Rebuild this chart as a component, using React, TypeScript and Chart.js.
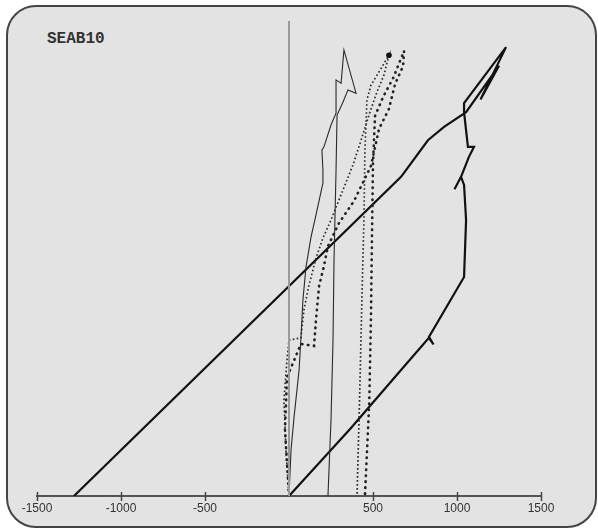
import React, { useEffect, useRef } from "react";
import { Chart, registerables } from "chart.js";

Chart.register(...registerables);

const chartTitle = "SEAB10";
const xTickValues = [-1500, -1000, -500, 500, 1000, 1500];

const zeroLine: [number, number][] = [
  [0, 0],
  [0, 100],
];

const totalLoop: [number, number][] = [
  [0, 0], [369, 14.3], [708, 28.2], [833, 33.3], [860, 31.9], [833, 33.5],
  [1042, 46.1], [1054, 58.1], [1042, 65.5], [1024, 67.2], [985, 64.6], [1024, 67.2],
  [1071, 71.4], [1101, 73.5], [1065, 73.5], [1042, 80.8], [1042, 82.7], [1292, 94.5],
  [1140, 83.5], [1250, 90.6], [1054, 80.8], [923, 77.7], [827, 74.9], [667, 67.2],
  [-1280, 0],
];

const thinLoop: [number, number][] = [
  [0, 0], [12, 9.7], [30, 16.6], [60, 26.5], [71, 33.3], [83, 41.3], [101, 48.2],
  [131, 54.5], [167, 60.2], [202, 65.9], [202, 68.6], [196, 72.8], [208, 73.5],
  [250, 78.1], [280, 80.6], [280, 87.6], [310, 86.9], [327, 93.9], [399, 84.8],
  [351, 85.5], [321, 82.9], [286, 80.2], [280, 68.6], [268, 49.7], [262, 32.8],
  [250, 16.0], [232, 0],
];

const denseDotted: [number, number][] = [
  [0, 0], [-18, 9.7], [-30, 20.2], [-12, 28.6], [0, 32.8], [71, 33.3], [89, 39.2],
  [119, 44.4], [161, 50.1], [202, 54.3], [250, 58.1], [321, 64.4], [381, 69.7],
  [429, 74.9], [476, 80.2], [524, 85.1], [565, 88.6], [595, 92.8], [536, 89.3],
  [488, 86.5], [464, 83.4], [452, 72.8], [446, 58.1], [434, 41.3], [423, 24.4],
  [412, 9.7], [405, 0],
];

const sparseDotted: [number, number][] = [
  [0, 0], [-24, 14], [-12, 25], [71, 32], [149, 31.6], [161, 37.3], [179, 44.2],
  [208, 48.4], [232, 52.6], [298, 57.5], [387, 62.1], [488, 69.5], [536, 77.3],
  [595, 81.5], [631, 86.7], [679, 90.5], [685, 93.7], [620, 88], [560, 84],
  [512, 80], [500, 70], [494, 55], [488, 38], [478, 20], [452, 0],
];

const toPts = (arr: [number, number][]) => arr.map(([x, y]) => ({ x, y }));

const tickMarks = {
  id: "tickMarks",
  afterDraw(chart: any) {
    const s = chart.scales.x;
    const ctx = chart.ctx;
    const y = chart.chartArea.bottom + 1;
    ctx.save();
    ctx.strokeStyle = "#444";
    ctx.lineWidth = 1.5;
    s.ticks.forEach((_t: any, i: number) => {
      const px = Math.round(s.getPixelForTick(i)) + 0.5;
      ctx.beginPath();
      ctx.moveTo(px, y - 5);
      ctx.lineTo(px, y + 4);
      ctx.stroke();
    });
    ctx.restore();
  },
};

export default function App() {
  const ref = useRef<HTMLCanvasElement | null>(null);

  useEffect(() => {
    if (!ref.current) return;
    const chart = new Chart(ref.current, {
      type: "scatter",
      data: {
        datasets: [
          {
            data: toPts(zeroLine),
            showLine: true,
            borderColor: "#9a9a9a",
            borderWidth: 2,
            pointRadius: 0,
          },
          {
            data: toPts(sparseDotted),
            showLine: true,
            borderColor: "#222",
            borderWidth: 2.6,
            borderDash: [0.5, 5.5],
            borderCapStyle: "round",
            pointRadius: 0,
          },
          {
            data: toPts(denseDotted),
            showLine: true,
            borderColor: "#2a2a2a",
            borderWidth: 1.7,
            borderDash: [1.6, 2.4],
            pointRadius: denseDotted.map((_, i) => (i === 17 ? 2.8 : 0)),
            pointBackgroundColor: "#111",
            pointBorderWidth: 0,
          },
          {
            data: toPts(thinLoop),
            showLine: true,
            borderColor: "#2a2a2a",
            borderWidth: 1.1,
            pointRadius: 0,
          },
          {
            data: toPts(totalLoop),
            showLine: true,
            borderColor: "#111",
            borderWidth: 2.2,
            pointRadius: 0,
          },
        ],
      },
      options: {
        animation: false,
        responsive: false,
        devicePixelRatio: 1,
        layout: { padding: { left: 37, right: 57, top: 21, bottom: 0 } },
        plugins: {
          legend: { display: false },
          tooltip: { enabled: false },
          title: { display: false },
        },
        elements: { line: { tension: 0 } },
        scales: {
          x: {
            type: "linear",
            min: -1500,
            max: 1500,
            afterBuildTicks: (scale: any) => {
              scale.ticks = xTickValues.map((v) => ({ value: v }));
            },
            afterFit: (scale: any) => {
              scale.height = 33;
            },
            grid: { display: false, drawTicks: false, tickLength: 0 },
            border: { display: true, color: "#555", width: 2 },
            ticks: {
              padding: 5,
              color: "#333",
              font: { family: "'Liberation Sans', Arial, sans-serif", size: 12 },
              callback: (v: any) => String(v),
              autoSkip: false,
              maxRotation: 0,
            },
          },
          y: {
            type: "linear",
            min: 0,
            max: 100,
            display: false,
          },
        },
      },
      plugins: [tickMarks],
    });
    return () => chart.destroy();
  }, []);

  return (
    <div style={{ position: "fixed", left: 0, top: 0, width: 598, height: 529, background: "#fff" }}>
      <div
        style={{
          position: "absolute",
          left: 6,
          top: 5,
          width: 591,
          height: 523,
          boxSizing: "border-box",
          border: "2px solid #444",
          borderRadius: 30,
          background: "#e3e3e3",
        }}
      />
      <div
        style={{
          position: "absolute",
          left: 47,
          top: 29,
          fontFamily: "'Liberation Mono', 'Courier New', monospace",
          fontWeight: "bold",
          fontSize: 16,
          color: "#333",
          lineHeight: "20px",
        }}
      >
        {chartTitle}
      </div>
      <canvas
        ref={ref}
        width={598}
        height={529}
        style={{ position: "absolute", left: 0, top: 0, width: 598, height: 529 }}
      />
    </div>
  );
}
